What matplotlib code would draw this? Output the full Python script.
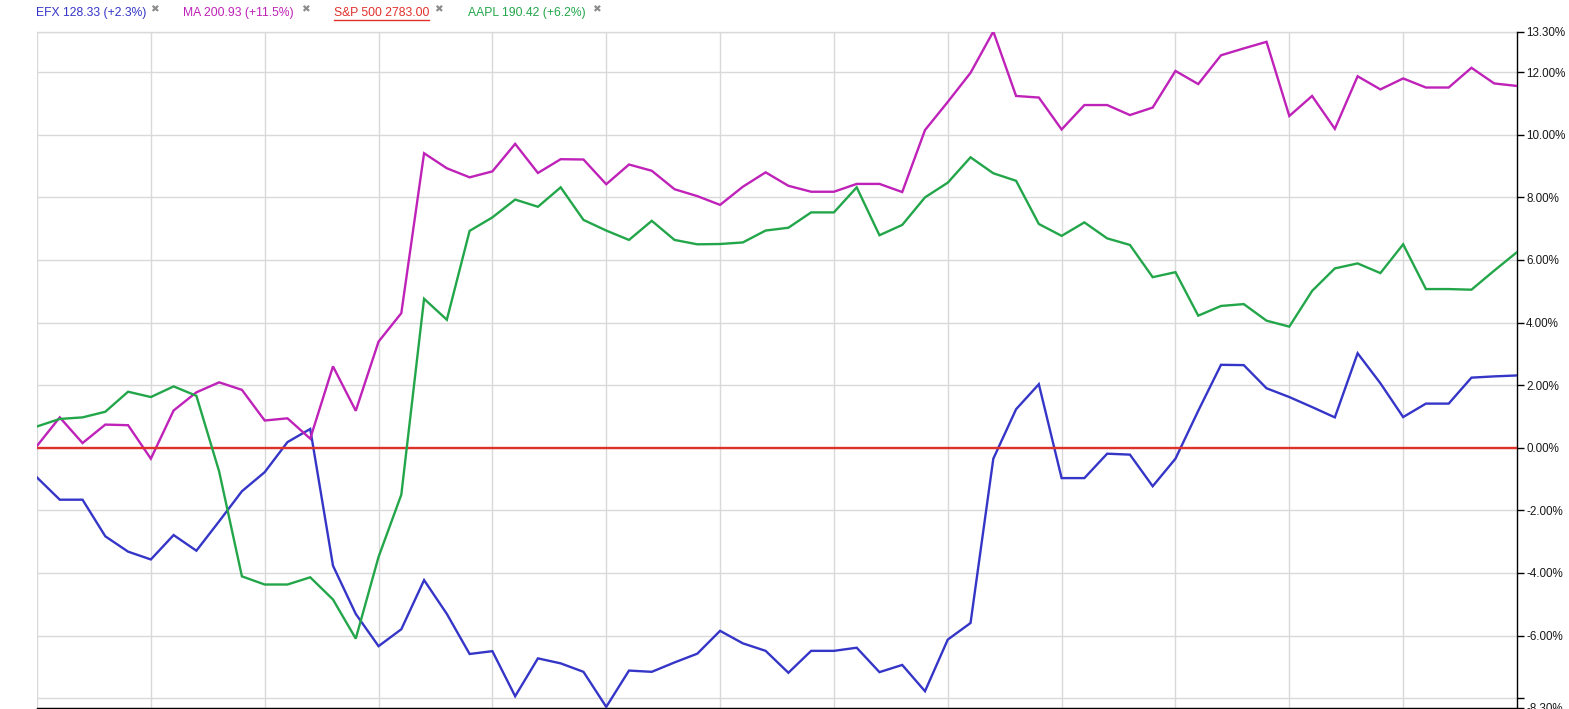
import matplotlib
matplotlib.use("Agg")
import matplotlib.pyplot as plt
from matplotlib.lines import Line2D

# percent change per trading day
efx = [-0.95, -1.66, -1.66, -2.83, -3.32, -3.57, -2.79, -3.29, -2.35, -1.39,
       -0.78, 0.18, 0.60, -3.77, -5.31, -6.34, -5.80, -4.23, -5.31, -6.59,
       -6.50, -7.94, -6.73, -6.89, -7.16, -8.28, -7.12, -7.16, -6.86, -6.58,
       -5.85, -6.25, -6.49, -7.19, -6.49, -6.49, -6.39, -7.17, -6.94, -7.78,
       -6.13, -5.60, -0.35, 1.23, 2.03, -0.97, -0.97, -0.19, -0.22, -1.23,
       -0.35, 1.18, 2.65, 2.64, 1.90, 1.62, 1.30, 0.97, 3.02, 2.06,
       0.98, 1.41, 1.41, 2.24, 2.28, 2.31]
ma = [0.06, 0.97, 0.15, 0.74, 0.72, -0.35, 1.19, 1.77, 2.09, 1.85,
      0.87, 0.94, 0.29, 2.60, 1.18, 3.39, 4.30, 9.41, 8.93, 8.64,
      8.83, 9.71, 8.78, 9.22, 9.21, 8.42, 9.05, 8.85, 8.26, 8.04,
      7.76, 8.34, 8.80, 8.37, 8.18, 8.18, 8.43, 8.43, 8.17, 10.15,
      11.05, 11.98, 13.30, 11.24, 11.19, 10.17, 10.95, 10.95, 10.63, 10.87,
      12.04, 11.62, 12.54, 12.76, 12.97, 10.60, 11.24, 10.19, 11.87, 11.45,
      11.80, 11.51, 11.51, 12.14, 11.64, 11.56]
sp500 = [0.0] * 66
aapl = [0.68, 0.92, 0.97, 1.15, 1.79, 1.62, 1.96, 1.66, -0.76, -4.11,
        -4.37, -4.37, -4.14, -4.85, -6.10, -3.49, -1.50, 4.76, 4.09, 6.93,
        7.36, 7.93, 7.70, 8.32, 7.28, 6.94, 6.64, 7.25, 6.64, 6.50,
        6.51, 6.56, 6.94, 7.03, 7.52, 7.52, 8.32, 6.79, 7.12, 8.00,
        8.47, 9.28, 8.77, 8.53, 7.15, 6.77, 7.20, 6.69, 6.48, 5.45,
        5.61, 4.22, 4.53, 4.59, 4.06, 3.87, 5.01, 5.73, 5.89, 5.58,
        6.50, 5.07, 5.07, 5.05, 5.66, 6.25]

legend_labels = ["EFX 128.33 (+2.3%)", "MA 200.93 (+11.5%)",
                 "S&P 500 2783.00", "AAPL 190.42 (+6.2%)"]
colors = ["#3535c8", "#bf22b8", "#e0302a", "#23a64a"]

ytick_vals = [-8.3, -8, -6, -4, -2, 0, 2, 4, 6, 8, 10, 12, 13.3]

plt.rcParams['font.family'] = ['Liberation Sans', 'DejaVu Sans']

W, H = 1569, 709
fig = plt.figure(figsize=(W / 100, H / 100), dpi=100)
ax = fig.add_axes([37 / W, 1.5 / H, (1517 - 37) / W, 676 / H])

days = list(range(len(efx)))
for series, c in zip([efx, ma, sp500, aapl], colors):
    ax.plot(days, series, color=c, lw=1.7, solid_joinstyle='miter', zorder=3)

ax.set_xlim(0, len(days) - 1)
ax.set_ylim(-8.3, 13.3)

# vertical grid every 5 days, no x labels
ax.set_xticks(range(0, len(days) - 1, 5))
ax.tick_params(axis='x', length=0, labelbottom=False)

ax.yaxis.tick_right()
ax.set_yticks(ytick_vals)
ax.set_yticklabels(["" if v == -8 else f"{v:.2f}%" for v in ytick_vals])
ax.tick_params(axis='y', direction='out', length=5, width=1, pad=1.5,
               labelsize=8.4, labelcolor='#1a1a1a', color='black')

ax.grid(True, color='#d9d9d9', lw=1, zorder=0)
ax.set_axisbelow(True)
for side in ['left', 'top']:
    ax.spines[side].set_visible(False)
for side in ['right', 'bottom']:
    ax.spines[side].set_color('black')
    ax.spines[side].set_linewidth(1)

# top border drawn as gray gridline
ax.axhline(13.3, color='#d9d9d9', lw=1, zorder=0, clip_on=False)

# legend row on top of the chart
text_x = [35.6, 183, 334, 467.6]
close_x = [150, 301.5, 434, 592]
y_leg = 1 - 13 / H
fig.canvas.draw()
renderer = fig.canvas.get_renderer()
for label, c, tx, cx in zip(legend_labels, colors, text_x, close_x):
    t = fig.text(tx / W, y_leg, label, color=c, fontsize=8.7, va='center', ha='left')
    fig.text(cx / W, 1 - 9.5 / H, "\u2716", color='#8c8c8c', fontsize=7.5,
             va='center', ha='left', family=['DejaVu Sans'])
    if label.startswith("S&P"):
        bb = t.get_window_extent(renderer=renderer)
        fig.add_artist(Line2D([bb.x0 / W, bb.x1 / W], [(bb.y0 - 1) / H, (bb.y0 - 1) / H],
                              color=c, lw=1, transform=fig.transFigure))

fig.savefig("out.png", dpi=100)
